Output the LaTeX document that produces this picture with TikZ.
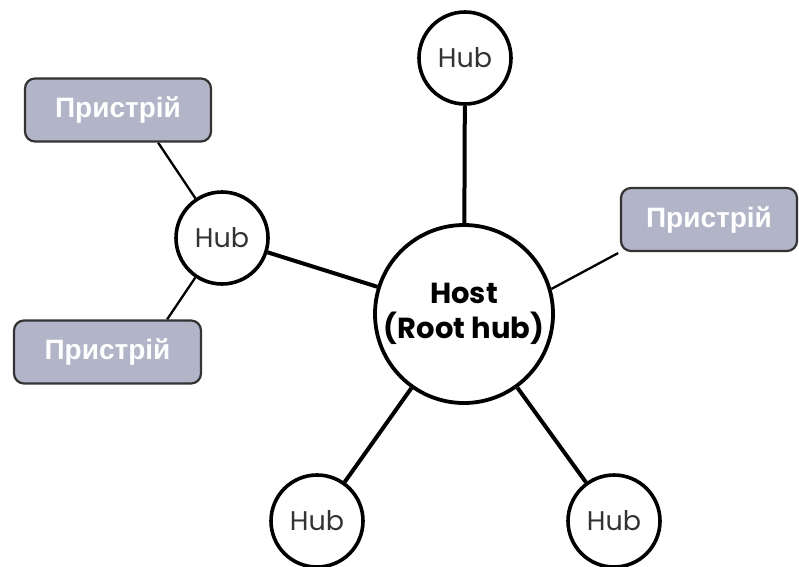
\documentclass[tikz,border=0pt]{standalone}
\usepackage{fontspec}
\usetikzlibrary{backgrounds}
\setmainfont{Poppins}
\newfontfamily\devfont{Liberation Sans}
\definecolor{boxfill}{HTML}{B2B4C7}
\definecolor{boxline}{HTML}{333333}
\definecolor{hubtext}{HTML}{333333}
\begin{document}
\begin{tikzpicture}[x=1pt,y=-1pt,
  hub/.style={circle, draw=black, line width=3.6pt, fill=white,
    minimum size=92pt, inner sep=0pt, text=hubtext,
    font=\fontsize{27}{27}\selectfont},
  host/.style={circle, draw=black, line width=3.8pt, fill=white,
    minimum size=178pt, inner sep=0pt, align=center,
    font=\bfseries\fontsize{29}{35}\selectfont},
  device/.style={rectangle, rounded corners=10pt, draw=boxline,
    line width=2.2pt, fill=boxfill, minimum height=63pt, inner sep=0pt,
    text=white, font=\devfont\bfseries\fontsize{28}{28}\selectfont},
  trunk/.style={line width=4pt},
  branch/.style={line width=2.3pt}]
\useasboundingbox (0,0) rectangle (799,566);
\clip (0,0) rectangle (799,566);

% root hub and the hubs around it
\node[host] (host) at (464,314) {Host\\(Root hub)};
\node[hub] (hubT) at (465,58) {Hub};
\node[hub] (hubL) at (222,238) {Hub};
\node[hub] (hubBL) at (317,521) {Hub};
\node[hub] (hubBR) at (614,521) {Hub};

% devices
\node[device, minimum width=186pt] (devTL) at (118,110) {Пристрій};
\node[device, minimum width=176pt] (devR) at (709,219.5) {Пристрій};
\node[device, minimum width=187pt] (devBL) at (107.5,352) {Пристрій};

% cables, kept behind the nodes
\begin{scope}[on background layer]
\draw[trunk] (host) -- (hubT);
\draw[trunk] (host) -- (hubL);
\draw[trunk] (host) -- (hubBL);
\draw[trunk] (host) -- (hubBR);
\draw[branch, shorten >=2pt] (host.16) -- (devR.south west);
\draw[branch] (hubL) -- ([xshift=-54pt]devTL.south east);
\draw[branch] (hubL) -- ([xshift=-35pt]devBL.north east);
\end{scope}
\end{tikzpicture}
\end{document}
